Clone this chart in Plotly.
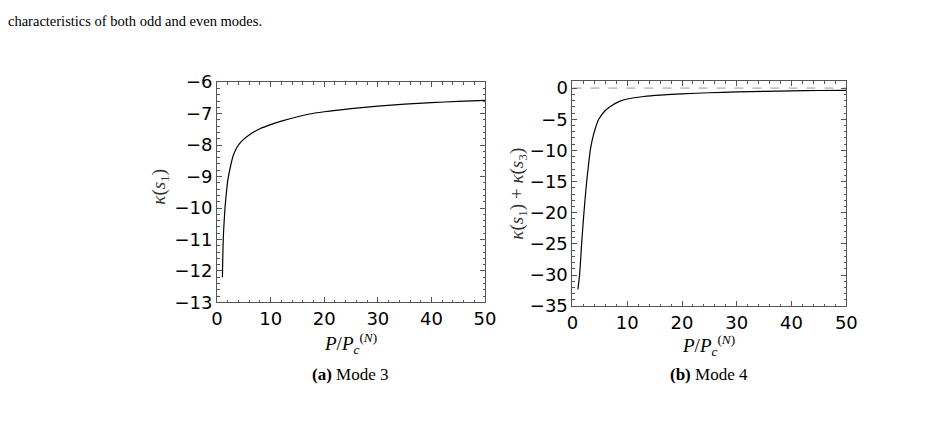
import plotly.graph_objects as go

# Mode 3: kappa(s1) vs P/Pc
x_a = [1.0, 1.05, 1.1, 1.2, 1.35, 1.5, 1.75, 2.0, 2.5, 3.0, 3.5, 4.0, 5.0, 6.0, 7.0, 8.0,
       10.0, 12.0, 15.0, 17.0, 20.0, 25.0, 30.0, 35.0, 40.0, 45.0, 50.0]
y_a = [-12.2, -11.7, -11.3, -10.8, -10.35, -9.95, -9.5, -9.12, -8.68, -8.34, -8.14, -7.99,
       -7.81, -7.68, -7.57, -7.48, -7.35, -7.24, -7.1, -7.02, -6.94, -6.84, -6.76, -6.7,
       -6.65, -6.61, -6.58]

# Mode 4: kappa(s1)+kappa(s3) vs P/Pc
x_b = [1.0, 1.15, 1.3, 1.5, 1.67, 1.9, 2.1, 2.35, 2.6, 2.9, 3.25, 3.7, 4.2, 4.8, 6.0, 7.0,
       8.7, 10.0, 13.0, 16.0, 20.0, 25.0, 30.0, 35.0, 40.0, 45.0, 50.0]
y_b = [-32.3, -31.2, -30.0, -27.5, -25.0, -22.3, -20.0, -17.4, -15.0, -12.6, -10.0, -8.0,
       -6.4, -5.0, -3.6, -2.9, -2.1, -1.75, -1.35, -1.12, -0.92, -0.75, -0.62, -0.52,
       -0.45, -0.39, -0.35]

x_ticks = [0, 10, 20, 30, 40, 50]
y_ticks_a = [-13, -12, -11, -10, -9, -8, -7, -6]
y_ticks_b = [-35, -30, -25, -20, -15, -10, -5, 0]

# the page body keeps its default 8px margin, so the figure is sized to fit the window
OFF = 8
W, H = 945 - 2 * OFF, 429 - 2 * OFF
def px(v): return (v - OFF) / W
def py(v): return 1 - (v - OFF) / H

fig = go.Figure()
fig.add_trace(go.Scatter(x=x_a, y=y_a, mode="lines", line=dict(color="black", width=1.2, shape="spline", smoothing=0.6),
                         xaxis="x", yaxis="y", showlegend=False, hoverinfo="skip"))
fig.add_trace(go.Scatter(x=[0, 50], y=[0, 0], mode="lines", line=dict(color="#999", width=1, dash="dash"),
                         xaxis="x2", yaxis="y2", showlegend=False, hoverinfo="skip"))
fig.add_trace(go.Scatter(x=x_b, y=y_b, mode="lines", line=dict(color="black", width=1.2, shape="spline", smoothing=0.6),
                         xaxis="x2", yaxis="y2", showlegend=False, hoverinfo="skip"))

tickfont = dict(family="DejaVu Sans, Liberation Sans, sans-serif", size=18, color="black")
axcommon = dict(showline=True, linecolor="#555", linewidth=1, mirror="ticks", ticks="inside",
                ticklen=5, tickcolor="#555", showgrid=False, zeroline=False, tickfont=tickfont,
                fixedrange=True)

fig.update_layout(
    width=W, height=H, margin=dict(l=0, r=0, t=0, b=0),
    paper_bgcolor="white", plot_bgcolor="white",
    xaxis=dict(domain=[px(223), px(496)], range=[0, 50], tickvals=x_ticks, anchor="y",
               minor=dict(ticks="inside", ticklen=2.5, dtick=2, tickcolor="#555"), **axcommon),
    yaxis=dict(domain=[py(315), py(83)], range=[-13, -6], tickvals=y_ticks_a, anchor="x",
               minor=dict(ticks="inside", ticklen=2.5, dtick=0.2, tickcolor="#555"), **axcommon),
    xaxis2=dict(domain=[px(585), px(864)], range=[0, 50], tickvals=x_ticks, anchor="y2",
                minor=dict(ticks="inside", ticklen=2.5, dtick=2, tickcolor="#555"), **axcommon),
    yaxis2=dict(domain=[py(319), py(82)], range=[-35, 1.1], tickvals=y_ticks_b, anchor="x2",
                minor=dict(ticks="inside", ticklen=2.5, dtick=1, tickcolor="#555"), **axcommon),
)

serif = "Liberation Serif, Times New Roman, serif"
xtitle = "<i>P</i>/<i>P</i><sub><i>c</i></sub><sup>(<i>N</i>)</sup>"
ann = [
    dict(x=px(OFF), y=py(OFF), text="characteristics of both odd and even modes.", xanchor="left",
         yanchor="top", font=dict(family=serif, size=14.5, color="black")),
    dict(x=px(359), y=py(358), text=xtitle, xanchor="center", yanchor="middle",
         font=dict(family=serif, size=19, color="black")),
    dict(x=px(724), y=py(360), text=xtitle, xanchor="center", yanchor="middle",
         font=dict(family=serif, size=19, color="black")),
    dict(x=px(164), y=py(193), text="<i>κ</i>(<i>s</i><sub>1</sub>)", textangle=-90,
         xanchor="center", yanchor="middle", font=dict(family=serif, size=19, color="#333")),
    dict(x=px(530), y=py(200), text="<i>κ</i>(<i>s</i><sub>1</sub>) + <i>κ</i>(<i>s</i><sub>3</sub>)",
         textangle=-90, xanchor="center", yanchor="middle", font=dict(family=serif, size=19, color="#333")),
    dict(x=px(359), y=py(391), text="<b>(a)</b> Mode 3", xanchor="center", yanchor="middle",
         font=dict(family=serif, size=17, color="black")),
    dict(x=px(724), y=py(391), text="<b>(b)</b> Mode 4", xanchor="center", yanchor="middle",
         font=dict(family=serif, size=17, color="black")),
]
for a in ann:
    a.update(xref="paper", yref="paper", showarrow=False)
fig.update_layout(annotations=ann)

fig.write_html("out.html")
